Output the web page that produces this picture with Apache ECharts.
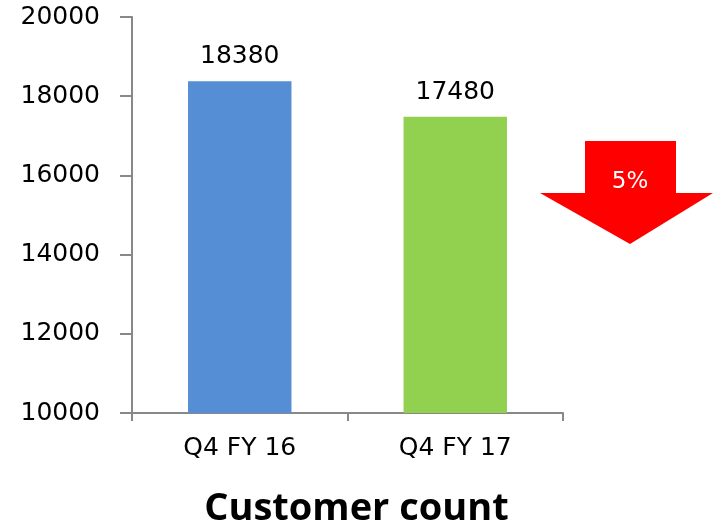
<!DOCTYPE html>
<html><head><meta charset="utf-8">
<script src="https://cdn.jsdelivr.net/npm/echarts@6/dist/echarts.min.js"></script>
<style>html,body{margin:0;padding:0;background:#fff}#c{width:713px;height:526px}</style>
</head><body><div id="c"></div>
<script>
const categories = ['Q4 FY 16', 'Q4 FY 17'];
const customerCount = [18380, 17480];
const barColors = ['#558ED5', '#92D050'];
const changeLabel = '5%';
const titleText = 'Customer count';

const chart = echarts.init(document.getElementById('c'));
chart.setOption({
  animation: false,
  title: {
    text: titleText, left: 'center', top: 485,
    textStyle: { fontFamily: 'Open Sans', fontWeight: 'bold', fontSize: 38, color: '#000' }
  },
  grid: { left: 132, right: 150, top: 17, bottom: 113 },
  xAxis: {
    type: 'category', data: categories,
    axisLine: { lineStyle: { color: '#888', width: 2 } },
    axisTick: { show: true, length: 8, lineStyle: { color: '#888', width: 2 } },
    axisLabel: { fontFamily: 'DejaVu Sans', fontSize: 25, color: '#000', margin: 23 }
  },
  yAxis: {
    type: 'value', min: 10000, max: 20000, interval: 2000,
    splitLine: { show: false },
    axisLine: { show: true, lineStyle: { color: '#888', width: 2 } },
    axisTick: { show: true, length: 12, lineStyle: { color: '#888', width: 2 } },
    axisLabel: { fontFamily: 'DejaVu Sans', fontSize: 25, color: '#000', margin: 32, formatter: v => String(v) }
  },
  series: [{
    type: 'bar', barWidth: '48%',
    data: customerCount.map((v, i) => ({ value: v, itemStyle: { color: barColors[i] } })),
    label: { show: true, position: 'top', distance: 12, fontFamily: 'DejaVu Sans', fontSize: 25, color: '#000' }
  }],
  graphic: [{
    type: 'polygon',
    shape: { points: [[585,141],[676,141],[676,193],[713,193],[630,244],[540,193],[585,193]] },
    style: { fill: '#FF0000' }
  }, {
    type: 'text', x: 630, y: 182,
    style: { text: changeLabel, fill: '#fff', fontFamily: 'DejaVu Sans', fontSize: 23, align: 'center', verticalAlign: 'middle' }
  }]
});
</script></body></html>
